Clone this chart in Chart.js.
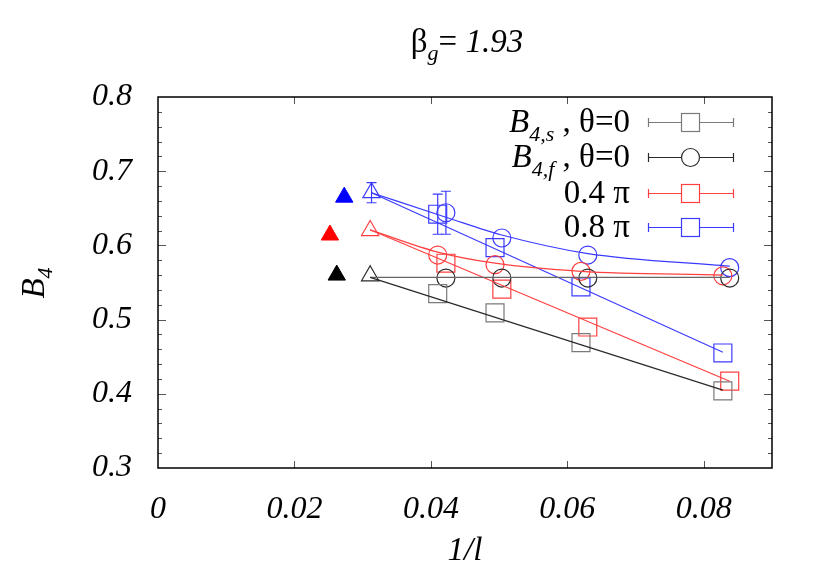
<!DOCTYPE html>
<html>
<head>
<meta charset="utf-8">
<script src="https://cdn.jsdelivr.net/npm/chart.js@4.4.1/dist/chart.umd.min.js"></script>
<style>
  html, body { margin: 0; padding: 0; background: #fff; }
  #wrap { width: 830px; height: 581px; }
</style>
</head>
<body>
<div id="wrap"><canvas id="chart" width="830" height="581"></canvas></div>
<script>
// axis ticks
const xTicks = [0, 0.02, 0.04, 0.06, 0.08];
const yTicks = [0.3, 0.4, 0.5, 0.6, 0.7, 0.8];

// B4,s theta=0 (squares)
const b4sX = [0.0410, 0.0494, 0.0620, 0.0828];
const b4sY = [0.535, 0.509, 0.469, 0.404];
// B4,f theta=0 (circles)
const b4fX = [0.0422, 0.0504, 0.0630, 0.0838];
const b4fY = [0.556, 0.556, 0.556, 0.556];
// 0.4 pi
const r04sqX = [0.0422, 0.0504, 0.0630, 0.0838];
const r04sqY = [0.576, 0.541, 0.490, 0.417];
const r04ciX = [0.0410, 0.0494, 0.0620, 0.0828];
const r04ciY = [0.587, 0.574, 0.565, 0.559];
// 0.8 pi
const b08sqX = [0.0410, 0.0494, 0.0620, 0.0828];
const b08sqY = [0.642, 0.597, 0.544, 0.455];
const b08sqErr = [0.027, 0, 0, 0];
const b08ciX = [0.0422, 0.0504, 0.0630, 0.0838];
const b08ciY = [0.644, 0.610, 0.587, 0.570];
const b08ciErr = [0.029, 0, 0, 0];

// open triangles (l=32) : black, red, blue
const triX = [0.0311, 0.0311, 0.0313];
const triY = [0.559, 0.620, 0.671];
const triErr = [0, 0, 0.0135];
// filled triangles (extrapolated)
const fillX = [0.0262, 0.0252, 0.0273];
const fillY = [0.560, 0.614, 0.665];

// fit lines
const fitB4sX = [0.0311, 0.0828];
const fitB4sY = [0.557, 0.405];
const fitB4fX = [0.0311, 0.0838];
const fitB4fY = [0.557, 0.557];
const fitR04sqX = [0.0311, 0.0838];
const fitR04sqY = [0.621, 0.417];
const fitR04ciX = [0.0311, 0.0410, 0.0494, 0.0620, 0.0828];
const fitR04ciY = [0.621, 0.591, 0.576, 0.565, 0.560];
const fitB08sqX = [0.0313, 0.0828];
const fitB08sqY = [0.671, 0.456];
const fitB08ciX = [0.0313, 0.0422, 0.0504, 0.0630, 0.0838];
const fitB08ciY = [0.671, 0.638, 0.614, 0.589, 0.572];

const GRAY = '#7a7a7a';
const BLACK = '#2a2a2a';
const RED = '#ff4040';
const BLUE = '#3b3bff';
const SERIF = '"Liberation Serif", "DejaVu Serif", serif';

function pts(xs, ys) {
    return xs.map((x, i) => ({ x: x, y: ys[i] }));
}

function markers(xs, ys, color, style, r, errs, fill) {
    return {
        data: pts(xs, ys),
        showLine: false,
        pointStyle: style,
        pointRadius: r,
        pointHoverRadius: r,
        borderColor: color,
        pointBorderWidth: 1.2,
        pointBackgroundColor: fill ? color : 'rgba(0,0,0,0)',
        errs: errs || null,
        errColors: null
    };
}

function fitLine(xs, ys, color, curved) {
    return {
        data: pts(xs, ys),
        showLine: true,
        pointRadius: 0,
        pointHoverRadius: 0,
        borderColor: color,
        borderWidth: 1.2,
        cubicInterpolationMode: curved ? 'monotone' : 'default',
        fill: false
    };
}

// draw text made of several pieces (italic, subscripts)
function drawRich(ctx, parts, x, y, align) {
    let w = 0;
    parts.forEach(p => {
        ctx.font = (p.it ? 'italic ' : '') + p.size + 'px ' + SERIF;
        p.w = ctx.measureText(p.t).width;
        w += p.w;
    });
    let cx = align === 'right' ? x - w : (align === 'center' ? x - w / 2 : x);
    parts.forEach(p => {
        ctx.font = (p.it ? 'italic ' : '') + p.size + 'px ' + SERIF;
        ctx.fillText(p.t, cx, y + (p.dy || 0));
        cx += p.w;
    });
}

const gnuplotLook = {
    id: 'gnuplotLook',
    afterDatasetsDraw(chart) {
        const ctx = chart.ctx;
        const xs = chart.scales.x, ys = chart.scales.y;
        const a = chart.chartArea;

        // error bars
        chart.data.datasets.forEach(ds => {
            if (!ds.errs) return;
            ctx.save();
            ctx.lineWidth = 1.2;
            ds.data.forEach((p, i) => {
                const e = ds.errs[i];
                if (!e) return;
                ctx.strokeStyle = ds.errColors ? ds.errColors[i] : ds.borderColor;
                const px = xs.getPixelForValue(p.x);
                const y1 = ys.getPixelForValue(p.y - e);
                const y2 = ys.getPixelForValue(p.y + e);
                ctx.beginPath();
                ctx.moveTo(px, y1); ctx.lineTo(px, y2);
                ctx.moveTo(px - 5, y1); ctx.lineTo(px + 5, y1);
                ctx.moveTo(px - 5, y2); ctx.lineTo(px + 5, y2);
                ctx.stroke();
            });
            ctx.restore();
        });

        // inward ticks
        ctx.save();
        ctx.strokeStyle = '#555';
        ctx.lineWidth = 1;
        ctx.beginPath();
        xTicks.forEach(v => {
            const px = Math.round(xs.getPixelForValue(v)) + 0.5;
            if (v === 0) return;
            ctx.moveTo(px, a.bottom); ctx.lineTo(px, a.bottom - 7);
            ctx.moveTo(px, a.top); ctx.lineTo(px, a.top + 7);
        });
        for (let k = 0; k <= 25; k++) {
            const v = 0.3 + k * 0.02;
            const py = Math.round(ys.getPixelForValue(v)) + 0.5;
            const len = (k % 5 === 0) ? 8 : 4;
            if (k === 0 || k === 25) continue;
            ctx.moveTo(a.left, py); ctx.lineTo(a.left + len, py);
            ctx.moveTo(a.right, py); ctx.lineTo(a.right - len, py);
        }
        ctx.stroke();
        ctx.restore();

        // frame
        ctx.save();
        ctx.strokeStyle = '#000';
        ctx.lineWidth = 1.5;
        ctx.strokeRect(a.left, a.top, a.right - a.left, a.bottom - a.top);
        ctx.restore();

        // legend
        const rows = [
            { parts: [{ t: 'B', it: true, size: 33 }, { t: '4,s', it: true, size: 22, dy: 9 }, { t: ' , θ=0', size: 33 }], color: GRAY, style: 'rect' },
            { parts: [{ t: 'B', it: true, size: 33 }, { t: '4,f', it: true, size: 22, dy: 9 }, { t: ' , θ=0', size: 33 }], color: BLACK, style: 'circle' },
            { parts: [{ t: '0.4 π', size: 33 }], color: RED, style: 'rect' },
            { parts: [{ t: '0.8 π', size: 33 }], color: BLUE, style: 'rect' }
        ];
        const rowY = [122, 157, 193, 227];
        ctx.save();
        ctx.fillStyle = '#000';
        ctx.textBaseline = 'alphabetic';
        rows.forEach((r, i) => {
            const y = rowY[i];
            drawRich(ctx, r.parts, 630, y + 10, 'right');
            ctx.strokeStyle = r.color;
            ctx.lineWidth = 1.2;
            ctx.beginPath();
            ctx.moveTo(648, y + 0.5); ctx.lineTo(733, y + 0.5);
            ctx.moveTo(648.5, y - 4); ctx.lineTo(648.5, y + 5);
            ctx.moveTo(733.5, y - 4); ctx.lineTo(733.5, y + 5);
            ctx.stroke();
            ctx.fillStyle = '#fff';
            if (r.style === 'rect') {
                ctx.fillRect(681, y - 9, 18, 18);
                ctx.strokeRect(681.5, y - 8.5, 18, 18);
            } else {
                ctx.beginPath();
                ctx.arc(690.5, y + 0.5, 9, 0, Math.PI * 2);
                ctx.fill();
                ctx.stroke();
            }
            ctx.fillStyle = '#000';
        });

        // title and axis titles
        drawRich(ctx, [{ t: 'β', size: 33 }, { t: 'g', it: true, size: 22, dy: 8 }, { t: '= ', size: 33 }, { t: '1.93', it: true, size: 33 }], 467, 52, 'center');
        drawRich(ctx, [{ t: '1/l', it: true, size: 33 }], 465, 560, 'center');
        ctx.translate(44, 283);
        ctx.rotate(-Math.PI / 2);
        drawRich(ctx, [{ t: 'B', it: true, size: 33 }, { t: '4', it: true, size: 22, dy: 8 }], 0, 0, 'center');
        ctx.restore();
    }
};

new Chart(document.getElementById('chart'), {
    type: 'scatter',
    data: {
        datasets: [
            fitLine(fitB4sX, fitB4sY, BLACK, false),
            fitLine(fitB4fX, fitB4fY, '#666666', false),
            fitLine(fitR04sqX, fitR04sqY, RED, false),
            fitLine(fitR04ciX, fitR04ciY, RED, true),
            fitLine(fitB08sqX, fitB08sqY, BLUE, false),
            fitLine(fitB08ciX, fitB08ciY, BLUE, true),
            markers(b4sX, b4sY, GRAY, 'rect', 12.7),
            markers(b4fX, b4fY, BLACK, 'circle', 9),
            markers(r04sqX, r04sqY, RED, 'rect', 12.7),
            markers(r04ciX, r04ciY, RED, 'circle', 9),
            markers(b08sqX, b08sqY, BLUE, 'rect', 12.7, b08sqErr),
            markers(b08ciX, b08ciY, BLUE, 'circle', 9, b08ciErr),
            {
                data: pts(triX, triY),
                showLine: false,
                pointStyle: 'triangle',
                pointRadius: 10,
                pointHoverRadius: 10,
                borderColor: BLACK,
                pointBorderColor: [BLACK, RED, BLUE],
                pointBorderWidth: 1.2,
                pointBackgroundColor: 'rgba(0,0,0,0)',
                errs: triErr,
                errColors: [BLACK, RED, BLUE]
            },
            {
                data: pts(fillX, fillY),
                showLine: false,
                pointStyle: 'triangle',
                pointRadius: 10,
                pointHoverRadius: 10,
                pointBorderColor: ['#000', '#ff0000', '#0000ff'],
                pointBackgroundColor: ['#000', '#ff0000', '#0000ff'],
                pointBorderWidth: 1
            }
        ]
    },
    options: {
        responsive: false,
        animation: false,
        layout: { padding: { top: 97, right: 58, left: 0, bottom: 0 } },
        plugins: {
            legend: { display: false },
            tooltip: { enabled: false }
        },
        scales: {
            x: {
                type: 'linear',
                min: 0,
                max: 0.09,
                grid: { display: false },
                border: { display: false },
                afterFit: function(scale) { scale.height = 113; },
                afterBuildTicks: function(scale) {
                    scale.ticks = xTicks.map(v => ({ value: v }));
                },
                ticks: {
                    padding: 14,
                    color: '#000',
                    maxRotation: 0,
                    font: { family: SERIF, size: 32, style: 'italic' },
                    callback: v => String(v)
                }
            },
            y: {
                type: 'linear',
                min: 0.3,
                max: 0.8,
                grid: { display: false },
                border: { display: false },
                afterFit: function(scale) { scale.width = 158; },
                afterBuildTicks: function(scale) {
                    scale.ticks = yTicks.map(v => ({ value: v }));
                },
                ticks: {
                    padding: 18,
                    color: '#000',
                    font: { family: SERIF, size: 32, style: 'italic' },
                    callback: v => v.toFixed(1)
                }
            }
        }
    },
    plugins: [gnuplotLook]
});
</script>
</body>
</html>
